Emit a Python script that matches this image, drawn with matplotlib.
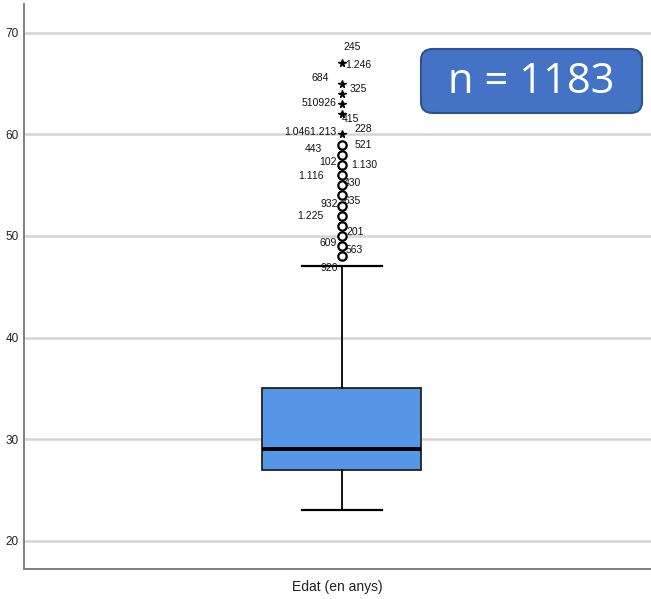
import matplotlib
matplotlib.use("Agg")
import matplotlib.pyplot as plt
from matplotlib.patches import FancyBboxPatch

# ---- data ----
variable = "Edat (en anys)"
n_total = 1183
q1, median, q3 = 27, 29, 35
whisker_low, whisker_high = 23, 47
outliers = [48, 49, 50, 51, 52, 53, 54, 55, 56, 57, 58, 59]
extremes = [60, 62, 63, 64, 65, 67]
yticks = [20, 30, 40, 50, 60, 70]

# case labels: text, y (value), side
label_texts = ["245", "1.246", "684", "325", "510926", "415", "1.0461.213", "228",
               "443", "521", "102", "1.130", "1.116", "430", "932", "635",
               "1.225", "201", "609", "563", "920"]
label_y = [68.6, 66.8, 65.6, 64.5, 63.1, 61.5, 60.2, 60.5,
           58.6, 59.0, 57.3, 57.0, 55.9, 55.2, 53.2, 53.4,
           52.0, 50.4, 49.3, 48.6, 46.8]
label_side = ["R", "R", "L", "R", "L", "R", "L", "R",
              "L", "R", "L", "R", "L", "R", "L", "R",
              "L", "R", "L", "R", "L"]
label_dx = [0.0, 0.005, -0.03, 0.02, -0.005, -0.005, -0.005, 0.035,
            -0.05, 0.035, -0.005, 0.025, -0.045, 0.0, 0.0, 0.0,
            -0.045, 0.01, -0.005, 0.005, 0.0]

plt.rcParams['font.family'] = ['Liberation Sans Narrow', 'Liberation Sans', 'DejaVu Sans']

fig = plt.figure(figsize=(6.51, 5.99), dpi=100)
ax = fig.add_axes([24/651, 30/599, 1 - 24/651, (569-4)/599])

stats = [dict(med=median, q1=q1, q3=q3, whislo=whisker_low, whishi=whisker_high,
              fliers=[], label="")]
ax.bxp(stats, positions=[1], widths=0.5, capwidths=0.25, showfliers=False,
       patch_artist=True,
       boxprops=dict(facecolor="#5596E6", edgecolor="#222222", linewidth=1.3),
       medianprops=dict(color="black", linewidth=2.8),
       whiskerprops=dict(color="black", linewidth=1.3),
       capprops=dict(color="black", linewidth=1.6), zorder=3)

ax.plot([1]*len(outliers), outliers, linestyle="none", marker="o", markersize=6,
        markerfacecolor="white", markeredgecolor="black", markeredgewidth=1.6, zorder=4)
ax.plot([1]*len(extremes), extremes, linestyle="none", marker="*", markersize=5.5,
        color="black", zorder=4)

for t, y, s, dx in zip(label_texts, label_y, label_side, label_dx):
    if s == "R":
        ax.text(1 + 0.005 + dx, y, t, ha="left", va="center", fontsize=7.5, color="#111111", zorder=5)
    else:
        ax.text(1 - 0.012 + dx, y, t, ha="right", va="center", fontsize=7.5, color="#111111", zorder=5)

ax.set_xlim(0, 1.972)
ax.set_ylim(17.2, 72.85)
ax.set_yticks(yticks)
ax.set_yticklabels([str(v) for v in yticks], fontsize=8.5, color="#222222")
ax.set_xticks([])
ax.yaxis.grid(True, color="#D4D4D4", linewidth=1.8)
ax.set_axisbelow(True)
ax.tick_params(axis="y", length=0, pad=4)
for sp in ["top", "right"]:
    ax.spines[sp].set_visible(False)
for sp in ["left", "bottom"]:
    ax.spines[sp].set_color("#7F7F7F")
    ax.spines[sp].set_linewidth(1.4)
ax.set_xlabel(variable, fontsize=10, color="#222222", labelpad=8)

# n label box (figure pixels)
W, H = 651, 599
bx0, by0, bx1, by1 = 421, 49, 642, 113
box = FancyBboxPatch((bx0/W, 1 - by1/H), (bx1-bx0)/W, (by1-by0)/H,
                     boxstyle="round,pad=0,rounding_size=0.018",
                     transform=fig.transFigure, facecolor="#4472C4",
                     edgecolor="#2F528F", linewidth=1.5, zorder=10)
fig.patches.append(box)
fig.text((bx0+bx1)/2/W, 1 - (by0+by1)/2/H - 0.002, f"n = {n_total}", ha="center", va="center",
         fontsize=30, color="white", family=["Open Sans", "DejaVu Sans"], zorder=11)

fig.savefig("out.png", dpi=100)
